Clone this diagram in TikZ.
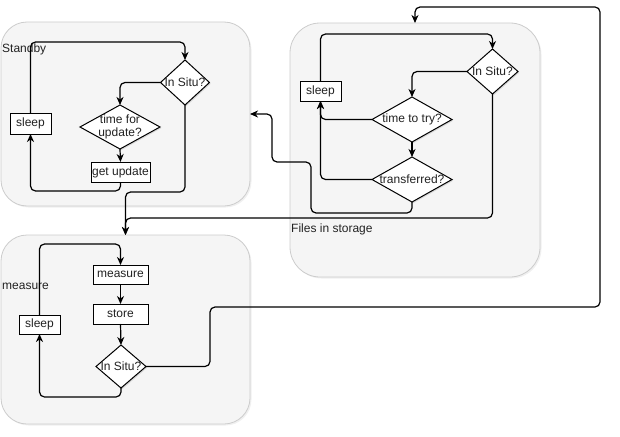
\documentclass[tikz,border=0pt]{standalone}
\usepackage{fontspec}
\setmainfont{Liberation Sans}
\usetikzlibrary{shapes.geometric,arrows.meta,calc,shadows}

\definecolor{panelfill}{HTML}{F5F5F5}
\definecolor{panelline}{HTML}{CCCCCC}
\definecolor{textdark}{HTML}{222222}

\tikzset{
  panel/.style={draw=panelline, fill=panelfill, line width=0.8pt, rounded corners=26pt,
    inner sep=0pt, outer sep=0pt,
    drop shadow={opacity=0.12, shadow xshift=1.5pt, shadow yshift=-1.5pt}},
  panellabel/.style={anchor=west, inner sep=0pt, text=textdark},
  stepbox/.style={draw=black, fill=white, line width=1pt, inner sep=1pt, outer sep=0pt,
    text=textdark,
    drop shadow={opacity=0.25, shadow xshift=1.2pt, shadow yshift=-1.2pt}},
  decide/.style={diamond, draw=black, fill=white, line width=1pt, inner sep=0pt, outer sep=0pt,
    text=textdark, label={[align=center, inner sep=0pt, text=textdark]center:#1},
    drop shadow={opacity=0.25, shadow xshift=1.2pt, shadow yshift=-1.2pt}},
  flow/.style={draw=black, line width=1.2pt, rounded corners=5pt,
    -{Stealth[length=8pt, width=7pt, inset=2.5pt]}},
}

\begin{document}
\begin{tikzpicture}[x=1pt, y=-1pt, font=\fontsize{12}{13.5}\selectfont]
\useasboundingbox (0,0) rectangle (620,436);

% ---------- panels ----------
\node[panel, minimum width=249pt, minimum height=184pt] (cs) at (125.5,114) {};
\node[panel, minimum width=250pt, minimum height=254pt, rounded corners=30pt] (cf) at (415,150) {};
\node[panel, minimum width=249pt, minimum height=189pt] (cm) at (125.5,329.5) {};

\node[panellabel] (lstandby) at (2,49) {Standby};
\node[panellabel] (lfiles) at (291,229) {Files in storage};
\node[panellabel] (lmeasure) at (2,286) {measure};

% ---------- Standby ----------
\node[decide={In Situ?}, minimum width=49pt, minimum height=45pt] (sbsitu) at (185,82.5) {};
\node[decide={time for\\update?}, minimum width=80pt, minimum height=44pt] (sbtime) at (120,127) {};
\node[stepbox, minimum width=59pt, minimum height=20pt] (sbget) at (120.5,172) {get update};
\node[stepbox, minimum width=41pt, minimum height=21pt] (sbsleep) at (30.5,123.5) {sleep};

\draw[flow] (sbsleep.north) |- ($(sbsitu.north)+(0,-18)$) -- (sbsitu.north);
\draw[flow] (sbsitu.west) -| (sbtime.north);
\draw[flow] (sbtime.south) -- (sbget.north);
\draw[flow] (sbget.south) -- ++(0,9) -| (sbsleep.south);
\draw[flow] (sbsitu.south) |- ($(cm.north)+(0,-43)$) -- (cm.north);

% ---------- Files in storage ----------
\node[decide={In Situ?}, minimum width=51pt, minimum height=45pt] (fssitu) at (492.5,71.5) {};
\node[decide={time to try?}, minimum width=80pt, minimum height=45pt] (fstry) at (412,119.5) {};
\node[decide={transferred?}, minimum width=80pt, minimum height=45pt] (fsdone) at (412,179.5) {};
\node[stepbox, minimum width=41pt, minimum height=20pt] (fssleep) at (320.5,91) {sleep};

\draw[flow] (fssleep.north) |- ($(fssitu.north)+(0,-15)$) -- (fssitu.north);
\draw[flow] (fssitu.west) -| (fstry.north);
\draw[flow] (fstry.west) -| (fssleep.south);
\draw[flow] (fstry.south) -- (fsdone.north);
\draw[flow] (fsdone.west) -| (fssleep.south);
\draw[flow] (fsdone.south) |- (311,213) |- (272,162) |- (cs.east);
\draw[flow] (fssitu.south) |- ($(cm.north)+(0,-17)$) -- (cm.north);

% ---------- measure ----------
\node[stepbox, minimum width=55pt, minimum height=19pt] (mmeas) at (120.5,274.5) {measure};
\node[stepbox, minimum width=55pt, minimum height=20pt] (mstore) at (120.5,314) {store};
\node[decide={In Situ?}, minimum width=50pt, minimum height=43pt] (msitu) at (121,366.5) {};
\node[stepbox, minimum width=41pt, minimum height=19pt] (msleep) at (39.5,324.5) {sleep};

\draw[flow] (msleep.north) |- ($(mmeas.north)+(0,-21)$) -- (mmeas.north);
\draw[flow] (mmeas.south) -- (mstore.north);
\draw[flow] (mstore.south) -- (msitu.north);
\draw[flow] (msitu.south) -- ++(0,9) -| (msleep.south);
\draw[flow] (msitu.east) -| (210,307) -- (600,307) -- (600,7) -| (cf.north);

\end{tikzpicture}
\end{document}
